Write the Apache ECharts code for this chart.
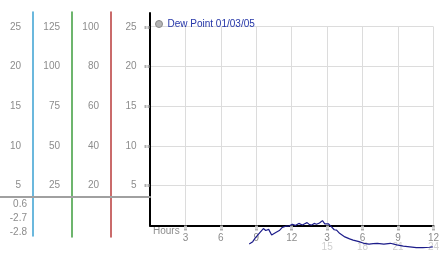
<!DOCTYPE html>
<html>
<head>
<meta charset="utf-8">
<script src="https://cdn.jsdelivr.net/npm/echarts@6/dist/echarts.min.js"></script>
<style>
html,body{margin:0;padding:0;background:#fff;}
#chart{width:442px;height:253px;}
</style>
</head>
<body>
<div id="chart"></div>
<script>
// ---- data ----
const seriesName = 'Dew Point 01/03/05';
const hours = [8.4, 8.7, 8.9, 9.1, 9.3, 9.6, 9.8, 10.05, 10.3, 10.65, 10.95, 11.2, 11.5, 11.8, 12.05, 12.3, 12.6, 12.9, 13.1, 13.3, 13.5, 13.7, 13.9, 14.1, 14.35, 14.6, 14.8, 15.1, 15.35, 15.6, 15.8, 16.05, 16.2, 16.5, 16.9, 17.2, 17.45, 17.7, 18.1, 18.55, 18.9, 19.25, 19.8, 20.35, 20.9, 21.45, 22.0, 22.55, 23.1, 23.65, 23.95];
const dewPoint = [-2.35, -2.05, -1.6, -1.25, -0.9, -0.4, -0.65, -0.5, -1.2, -0.9, -0.65, -0.25, -0.1, -0.05, 0.15, 0.0, 0.25, 0.05, 0.2, 0.35, 0.1, 0.05, 0.25, 0.15, 0.3, 0.6, 0.2, 0.2, -0.15, -0.55, -0.6, -1.0, -1.2, -1.45, -1.7, -1.85, -1.95, -2.05, -2.25, -2.35, -2.3, -2.25, -2.35, -2.25, -2.45, -2.6, -2.7, -2.8, -2.8, -2.75, -2.7];
const col1Ticks = [5, 10, 15, 20, 25];
const col2Ticks = [25, 50, 75, 100, 125];
const col3Ticks = [20, 40, 60, 80, 100];
const col4Ticks = [5, 10, 15, 20, 25];
const statLabels = ['0.6', '-2.7', '-2.8'];
const hourTicks = [3, 6, 9, 12, 15, 18, 21, 24];
const hourLabels = ['3', '6', '9', '12', '3', '6', '9', '12'];
const secondRowTicks = [15, 18, 21, 24];

// ---- layout ----
const FONT = 'Liberation Sans';
const LABEL_COLOR = '#8c8c8c';
const TICK_COLOR = '#b0b0b0';
const Y0 = 225.4, PX = 7.94;      // pixel of value 0 and px per unit (left scale)
const H = 253;
function rangeFor(top, bottom, scale) {
  return { min: -(bottom - Y0) / PX * scale, max: (Y0 - top) / PX * scale };
}

const chart = echarts.init(document.getElementById('chart'), null, {renderer: 'canvas'});

const colDefs = [
  {x: 33, color: '#3aa0d2', ticks: col1Ticks, scale: 1, top: 12, bottom: 236},
  {x: 72, color: '#3c9c3c', ticks: col2Ticks, scale: 5, top: 12, bottom: 237},
  {x: 111, color: '#b83a3a', ticks: col3Ticks, scale: 4, top: 12, bottom: 237},
  {x: 149.5, color: '#000000', ticks: col4Ticks, scale: 1, top: 13, bottom: Y0}
];

const grids = [
  {left: 150, right: 3, top: 26.7, bottom: H - Y0}
];
const xAxes = [
  {
    type: 'value', gridIndex: 0, min: 0, max: 24, interval: 3,
    axisLine: {show: true, onZero: false, lineStyle: {color: '#000', width: 2}},
    axisTick: {show: true, customValues: hourTicks, length: 6, inside: false, lineStyle: {color: TICK_COLOR, width: 3, type: [2, 1]}},
    axisLabel: {
      show: true, customValues: hourTicks, margin: 8, color: LABEL_COLOR, fontSize: 10, fontFamily: FONT,
      formatter: v => hourLabels[hourTicks.indexOf(v)] || ''
    },
    splitLine: {show: true, lineStyle: {color: '#dcdcdc', width: 1}}
  },
  {
    type: 'value', gridIndex: 0, min: 0, max: 24, position: 'bottom', offset: 9,
    axisLine: {show: false}, axisTick: {show: false}, splitLine: {show: false},
    axisLabel: {show: true, customValues: secondRowTicks, margin: 8, color: '#cfcfcf', fontSize: 10, fontFamily: FONT}
  }
];
const yAxes = [
  {
    type: 'value', gridIndex: 0, min: 0, max: 25, interval: 5,
    axisLine: {show: false}, axisTick: {show: false}, axisLabel: {show: false},
    splitLine: {show: true, lineStyle: {color: '#dcdcdc', width: 1}}
  }
];

colDefs.forEach((c, i) => {
  const gi = grids.length;
  grids.push({left: c.x, width: 4, top: c.top, bottom: H - c.bottom});
  xAxes.push({type: 'value', gridIndex: gi, show: false});
  const r = rangeFor(c.top, c.bottom, c.scale);
  yAxes.push({
    type: 'value', gridIndex: gi, position: 'left', min: r.min, max: r.max,
    axisLine: {show: true, lineStyle: {color: c.color, width: i === 3 ? 2 : 1.5}},
    axisTick: i === 3
      ? {show: true, customValues: c.ticks, length: 5, lineStyle: {color: TICK_COLOR, width: 3, type: [2, 1]}}
      : {show: false},
    axisLabel: {show: true, customValues: c.ticks, margin: i === 3 ? 13 : 12, color: LABEL_COLOR, fontSize: 10, fontFamily: FONT},
    splitLine: {show: false}
  });
});

// grey separator across the left panel
const sepGrid = grids.length;
grids.push({left: 0, width: 150, top: 150, bottom: H - 197});
xAxes.push({type: 'value', gridIndex: sepGrid, axisLine: {show: true, onZero: false, lineStyle: {color: '#a0a0a0', width: 2}},
  axisTick: {show: false}, axisLabel: {show: false}, splitLine: {show: false}});
yAxes.push({type: 'value', gridIndex: sepGrid, show: false});

const graphics = statLabels.map((t, i) => ({
  type: 'text', right: 442 - 27, top: 199 + i * 14,
  style: {text: t, fill: LABEL_COLOR, font: '10px ' + FONT, textAlign: 'right'}
}));
graphics.push({
  type: 'text', left: 153, top: 226,
  style: {text: 'Hours', fill: LABEL_COLOR, font: '10px ' + FONT}
});

chart.setOption({
  animation: false,
  backgroundColor: '#ffffff',
  grid: grids,
  xAxis: xAxes,
  yAxis: yAxes,
  legend: {
    left: 150, top: 14, itemWidth: 7, itemHeight: 7, icon: 'circle',
    data: [{name: seriesName, itemStyle: {color: '#b4b4b4', borderColor: '#8a8a8a', borderWidth: 1}}],
    textStyle: {color: '#2435a8', fontSize: 10, fontFamily: FONT}
  },
  graphic: graphics,
  series: [{
    name: seriesName, type: 'line', xAxisIndex: 0, yAxisIndex: 0,
    data: hours.map((h, i) => [h, dewPoint[i]]),
    showSymbol: false, clip: false,
    lineStyle: {color: '#1c1c8a', width: 1.2},
    itemStyle: {color: '#1c1c8a'}
  }]
});
</script>
</body>
</html>
